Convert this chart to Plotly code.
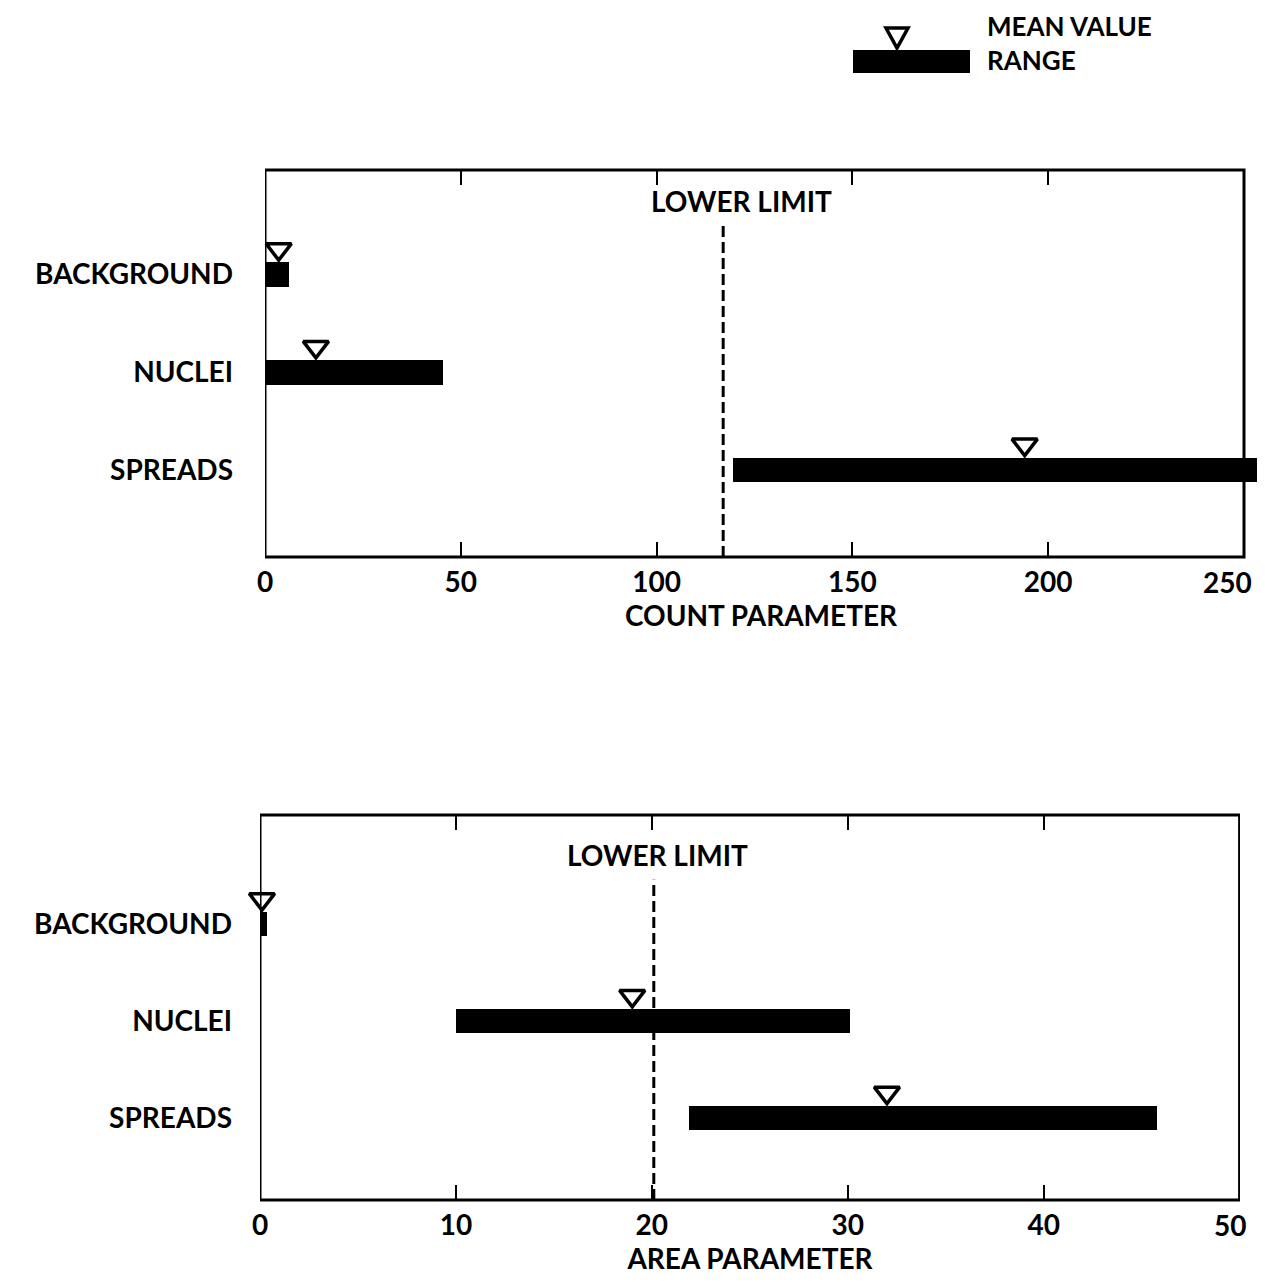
import plotly.graph_objects as go

# page is offset by the 8px body margin, so the figure is 16px smaller
OFF = 8
W, H = 1265 - 2 * OFF, 1286 - 2 * OFF

categories = ["BACKGROUND", "NUCLEI", "SPREADS"]
cat_pos = [3, 2, 1]

# Top panel: count parameter
count_low = [0, 0, 119.5]
count_high = [6, 45.5, 254.5]
count_mean = [3.5, 13, 194]
count_lower_limit = 117
count_ticks = [0, 50, 100, 150, 200, 250]

# Bottom panel: area parameter
area_low = [0, 10, 21.9]
area_high = [0.35, 30.1, 45.8]
area_mean = [0.1, 19, 32]
area_lower_limit = 20.1
area_ticks = [0, 10, 20, 30, 40, 50]

FONT = "Lato"
FW = 700
fig = go.Figure()


def px_x(p):
    return (p - OFF) / W


def px_y(p):
    return 1 - (p - OFF) / H


panels = [
    dict(low=count_low, high=count_high, mean=count_mean, ll=count_lower_limit,
         ticks=count_ticks, axmax=250, title="COUNT PARAMETER",
         x0px=265, x1px=1244, ytop=170, ybot=557,
         yr=[0.11, 4.07], lltop=3.51, lltext_y=3.75, xa="x", ya="y",
         llshift=18, ystand=31, lastshift=-17),
    dict(low=area_low, high=area_high, mean=area_mean, ll=area_lower_limit,
         ticks=area_ticks, axmax=50, title="AREA PARAMETER",
         x0px=260, x1px=1240, ytop=815, ybot=1200,
         yr=[0.15, 4.13], lltop=3.46, lltext_y=3.72, xa="x2", ya="y2",
         llshift=4, ystand=27, lastshift=-10),
]

for i, p in enumerate(panels):
    # extend the plotting range so bars overrunning the frame stay visible
    ppu = (p["x1px"] - p["x0px"]) / p["axmax"]
    right_px = min(p["x0px"] + (max(p["high"]) + 0.1) * ppu, OFF + W)
    if right_px <= p["x1px"]:
        right_px = p["x1px"]
        rmax = p["axmax"] + 0.02
    else:
        rmax = (right_px - p["x0px"]) / ppu

    widths = [h - l for l, h in zip(p["low"], p["high"])]
    fig.add_trace(go.Bar(
        y=cat_pos, x=widths, base=p["low"], orientation="h", width=0.25,
        marker=dict(color="black", line=dict(width=0)),
        xaxis=p["xa"], yaxis=p["ya"], showlegend=False,
    ))
    fig.add_trace(go.Scatter(
        x=p["mean"], y=[c + 0.26 for c in cat_pos], mode="markers",
        marker=dict(symbol="triangle-down", size=22, color="white",
                    line=dict(color="black", width=3.5)),
        xaxis=p["xa"], yaxis=p["ya"], showlegend=False, cliponaxis=False,
    ))
    fig.add_trace(go.Scatter(
        x=[p["ll"], p["ll"]], y=[p["yr"][0], p["lltop"]], mode="lines",
        line=dict(color="black", width=3, dash="11px,5px"),
        xaxis=p["xa"], yaxis=p["ya"], showlegend=False,
    ))
    fig.add_annotation(
        x=p["ll"], y=p["lltext_y"], xref=p["xa"], yref=p["ya"], text="LOWER LIMIT",
        showarrow=False, yanchor="middle", xshift=p["llshift"],
        font=dict(family=FONT, size=28, color="black", weight=FW),
    )
    # frame
    fig.add_shape(type="rect", xref=p["xa"], yref=p["ya"] + " domain",
                  x0=0, x1=p["axmax"], y0=0, y1=1,
                  line=dict(color="black", width=3), layer="above")
    # last tick label sits slightly left of its tick in the original
    ticktext = [str(t) for t in p["ticks"]]
    last_label = ticktext[-1]
    ticktext[-1] = ""
    fig.add_annotation(
        x=p["ticks"][-1], y=0, xref=p["xa"], yref=p["ya"] + " domain",
        text=last_label, showarrow=False, yanchor="middle",
        xshift=p["lastshift"], yshift=-25,
        font=dict(family=FONT, size=28, color="black", weight=FW),
    )
    suffix = "" if i == 0 else "2"
    fig.update_layout(**{
        "xaxis" + suffix: dict(
            domain=[px_x(p["x0px"]), min(1.0, px_x(right_px))], range=[0, rmax],
            tickvals=p["ticks"], ticktext=ticktext,
            ticks="inside", ticklen=15, tickwidth=2, tickcolor="black",
            showline=False, mirror="ticks", automargin=False,
            ticklabeloverflow="allow", ticklabelstandoff=6,
            showgrid=False, zeroline=False, anchor=p["ya"],
            tickfont=dict(family=FONT, size=28, color="black", weight=FW),
            title=dict(text=p["title"], standoff=2,
                       font=dict(family=FONT, size=28, color="black", weight=FW)),
        ),
        "yaxis" + suffix: dict(
            domain=[px_y(p["ybot"]), px_y(p["ytop"])], range=p["yr"],
            tickvals=cat_pos, ticktext=categories, automargin=False,
            ticks="", showline=False, showgrid=False, zeroline=False,
            anchor=p["xa"], ticklabelstandoff=p["ystand"],
            tickfont=dict(family=FONT, size=28, color="black", weight=FW),
        ),
    })

# Legend (drawn as shapes/annotations)
fig.add_shape(type="rect", xref="paper", yref="paper",
              x0=px_x(853), x1=px_x(970), y0=px_y(73), y1=px_y(50),
              fillcolor="black", line=dict(width=0))
fig.add_shape(type="path", xref="paper", yref="paper",
              path=f"M {px_x(886)} {px_y(28)} L {px_x(908)} {px_y(28)} L {px_x(897)} {px_y(48)} Z",
              fillcolor="white", line=dict(color="black", width=3.5))
fig.add_annotation(x=px_x(985), y=px_y(43), xref="paper", yref="paper",
                   text="MEAN VALUE<br>RANGE", showarrow=False, align="left",
                   xanchor="left", yanchor="middle",
                   font=dict(family=FONT, size=26, color="black", weight=FW))

fig.update_layout(
    width=W, height=H, margin=dict(l=0, r=0, t=0, b=0, autoexpand=False),
    paper_bgcolor="white", plot_bgcolor="rgba(0,0,0,0)", showlegend=False,
    bargap=0,
)

fig.write_html("out.html")
